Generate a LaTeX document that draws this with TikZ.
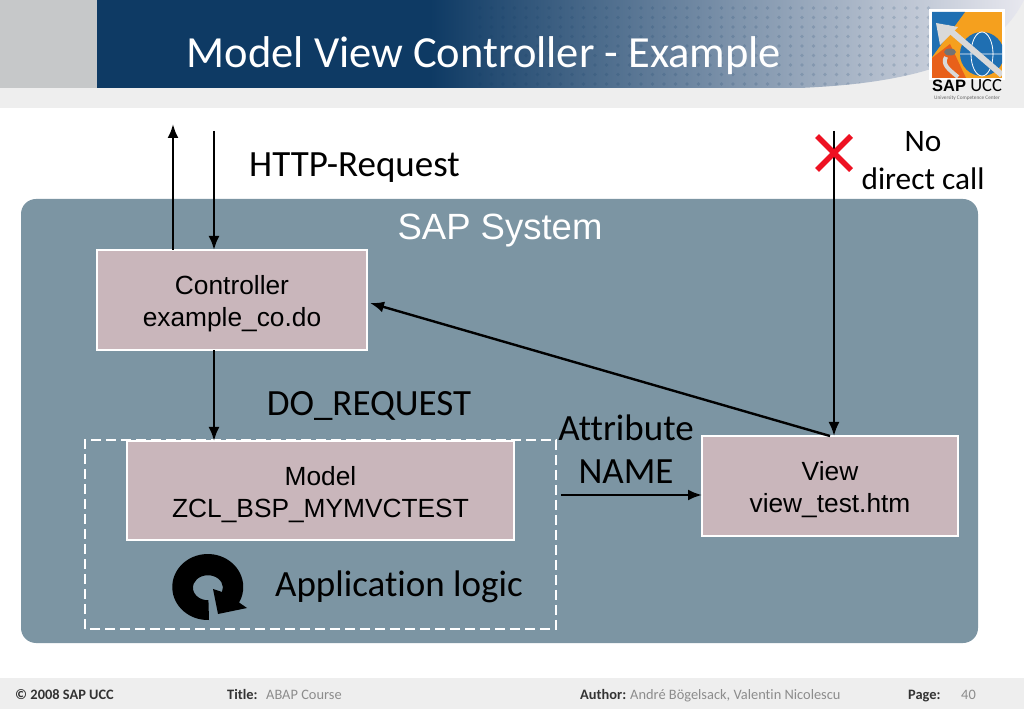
\documentclass[tikz,border=0pt]{standalone}
\usepackage{fontspec}
\setmainfont{Carlito}[Ligatures=NoCommon]
\newfontfamily\arialfont{Liberation Sans}
\usepackage{xcolor}
\usetikzlibrary{arrows.meta}

\definecolor{panelblue}{HTML}{7C95A3}
\definecolor{boxrose}{HTML}{C9B6BB}
\definecolor{headnavy}{HTML}{0E3A64}
\definecolor{headmid}{HTML}{8588AC}
\definecolor{headpale}{HTML}{E8E8EF}
\definecolor{bandgray}{HTML}{EEEEEE}
\definecolor{sidegray}{HTML}{C6C8C9}
\definecolor{logoorange}{HTML}{F5A01E}
\definecolor{logored}{HTML}{E8601A}
\definecolor{logoblue}{HTML}{1F6FB2}
\definecolor{crossred}{HTML}{EE1122}
\definecolor{footgray}{HTML}{8C8C8C}

\newcommand{\boxlift}{\rule{0pt}{27pt}}

\tikzset{
    boxnode/.style={draw=white, line width=1.2pt, fill=boxrose, outer sep=0pt, inner sep=0pt, align=center, font=\arialfont\fontsize{26.3}{32}\selectfont},
    bigtext/.style={inner sep=0pt, align=center, text=black, font=\fontsize{37}{43}\selectfont},
    foothead/.style={inner sep=0pt, anchor=base west, font=\bfseries\fontsize{14.4}{18}\selectfont, text=black!80},
    footname/.style={inner sep=0pt, anchor=base west, font=\fontsize{14.4}{18}\selectfont, text=footgray},
    flow/.style={-{Latex[length=14pt,width=11pt]}, line width=2.4pt, black},
}

\begin{document}
\begin{tikzpicture}[x=1pt, y=1pt]
    \useasboundingbox (0,0) rectangle (1024,709);
    \fill[white] (0,0) rectangle (1024,709);

    % header
    \fill[bandgray] (0,601) rectangle (1024,709);
    \fill[sidegray] (0,621) rectangle (97,709);
    \fill[headnavy] (97,621) rectangle (431,709);
    \shade[left color=headnavy, middle color=headmid, right color=headpale] (430,621) -- (800,621) .. controls (890,625) and (990,640) .. (1024,709) -- (430,709) -- cycle;
    \begin{scope}
        \clip (430,621) -- (800,621) .. controls (890,625) and (990,640) .. (1024,709) -- (430,709) -- cycle;
        \foreach \dotx in {480,491.5,...,930}
            \foreach \doty in {625,634.5,...,709}
                \fill[headnavy, opacity=0.16] (\dotx,\doty) circle (1.9);
    \end{scope}
    \node (title) at (484,653) [inner sep=0pt, text=white, font=\fontsize{44.5}{48}\selectfont] {Model View Controller - Example};

    % logo
    \fill[white] (929,629) rectangle (1005,700);
    \begin{scope}
        \clip (932,631) rectangle (1002,697);
        \fill[logoorange] (932,631) rectangle (1002,697);
        \fill[logoblue] (932,697) -- (965,697) -- (932,652) -- cycle;
        \fill[logored] (932,631) -- (966,631) -- (950,665) -- (932,651) -- cycle;
        \fill[logoblue] (982,655) circle (22);
        \draw[white, line width=0.8pt] (982,655) ellipse (11 and 22) (960,655) -- (1004,655);
        \draw[black!15, line width=6pt] (1002,634) -- (946,682);
        \fill[black!15] (936,686) -- (958,682) -- (940,664) -- cycle;
        \fill[black!55] (950,657) ellipse (6 and 3.5);
        \draw[black!15, line width=4pt] (946,652) .. controls (942,645) and (948,640) .. (958,632);
    \end{scope}
    \node (logoname) at (967,623.5) [inner sep=0pt, font=\fontsize{18.5}{20}\selectfont] {{\arialfont\bfseries\fontsize{16.5}{20}\selectfont SAP} UCC};
    \node (logosub) at (967,610.5) [inner sep=0pt, text=black!60, font=\fontsize{5.3}{6}\selectfont] {University Competence Center};

    % panel
    \fill[panelblue, rounded corners=15pt] (21,66) rectangle (978,510);
    \draw[white, line width=1.8pt, dash pattern=on 10pt off 5pt] (85,80) rectangle (556,269);
    \node (system) at (500,478) [inner sep=0pt, text=white, font=\arialfont\fontsize{36.5}{40}\selectfont] {SAP System};

    \node (ctrl)  at (232,409)   [boxnode, minimum width=270pt, minimum height=100pt] {\boxlift Controller\\example\_co.do};
    \node (model) at (320.5,218.5) [boxnode, minimum width=387pt, minimum height=99pt] {\boxlift Model\\ZCL\_BSP\_MYMVCTEST};
    \node (view)  at (830,223)   [boxnode, minimum width=256pt, minimum height=100pt] {\boxlift View\\view\_test.htm};

    \node (request) at (354.5,541) [bigtext] {HTTP-Request};
    \node (direct)  at (923,548)   [bigtext, font=\fontsize{31.3}{38}\selectfont] {No\\direct call};
    \node (doreq)   at (369,303)   [bigtext] {DO\_REQUEST};
    \node (attr)    at (626,260)   [bigtext] {Attribute\\NAME};
    \node (logic)   at (399,122)   [bigtext] {Application logic};

    \coordinate (upend)   at (173,585);
    \coordinate (inend)   at (214,578);
    \coordinate (nocall)  at (834,578);
    \coordinate (attrin)  at (561,214);
    \coordinate (ctrlin)  at (370,406);

    \draw[flow] (ctrl.north -| upend) -- (upend);
    \draw[flow] (inend) -- (ctrl.north -| inend);
    \draw[flow] (ctrl.south -| inend) -- (model.north -| inend);
    \draw[flow] (view.north) -- (ctrlin);
    \draw[flow] (attrin) -- (view.west |- attrin);
    \draw[flow] (nocall) -- (view.north -| nocall);

    % red cross
    \draw[crossred, line width=5.5pt] (817,539) -- (851,573) (817,573) -- (851,539);

    % round arrow
    \fill[black] (209,89) arc (272:-28:35.5 and 33) -- (247,101) -- (218,95) -- (213,120) -- (222,117) arc (-20:272:15 and 12.5) -- cycle;

    % footer
    \fill[bandgray] (0,0) rectangle (1024,31);
    \node (copy)   at (15,10)  [foothead] {© 2008 SAP UCC};
    \node (ftitle) at (227,10) [foothead] {Title:};
    \node (course) at (266,10) [footname] {ABAP Course};
    \node (fauth)  at (580,10) [foothead] {Author:};
    \node (names)  at (630,10) [footname] {André Bögelsack, Valentin Nicolescu};
    \node (fpage)  at (908,10) [foothead] {Page:};
    \node (pageno) at (961,10) [footname] {40};
\end{tikzpicture}
\end{document}
